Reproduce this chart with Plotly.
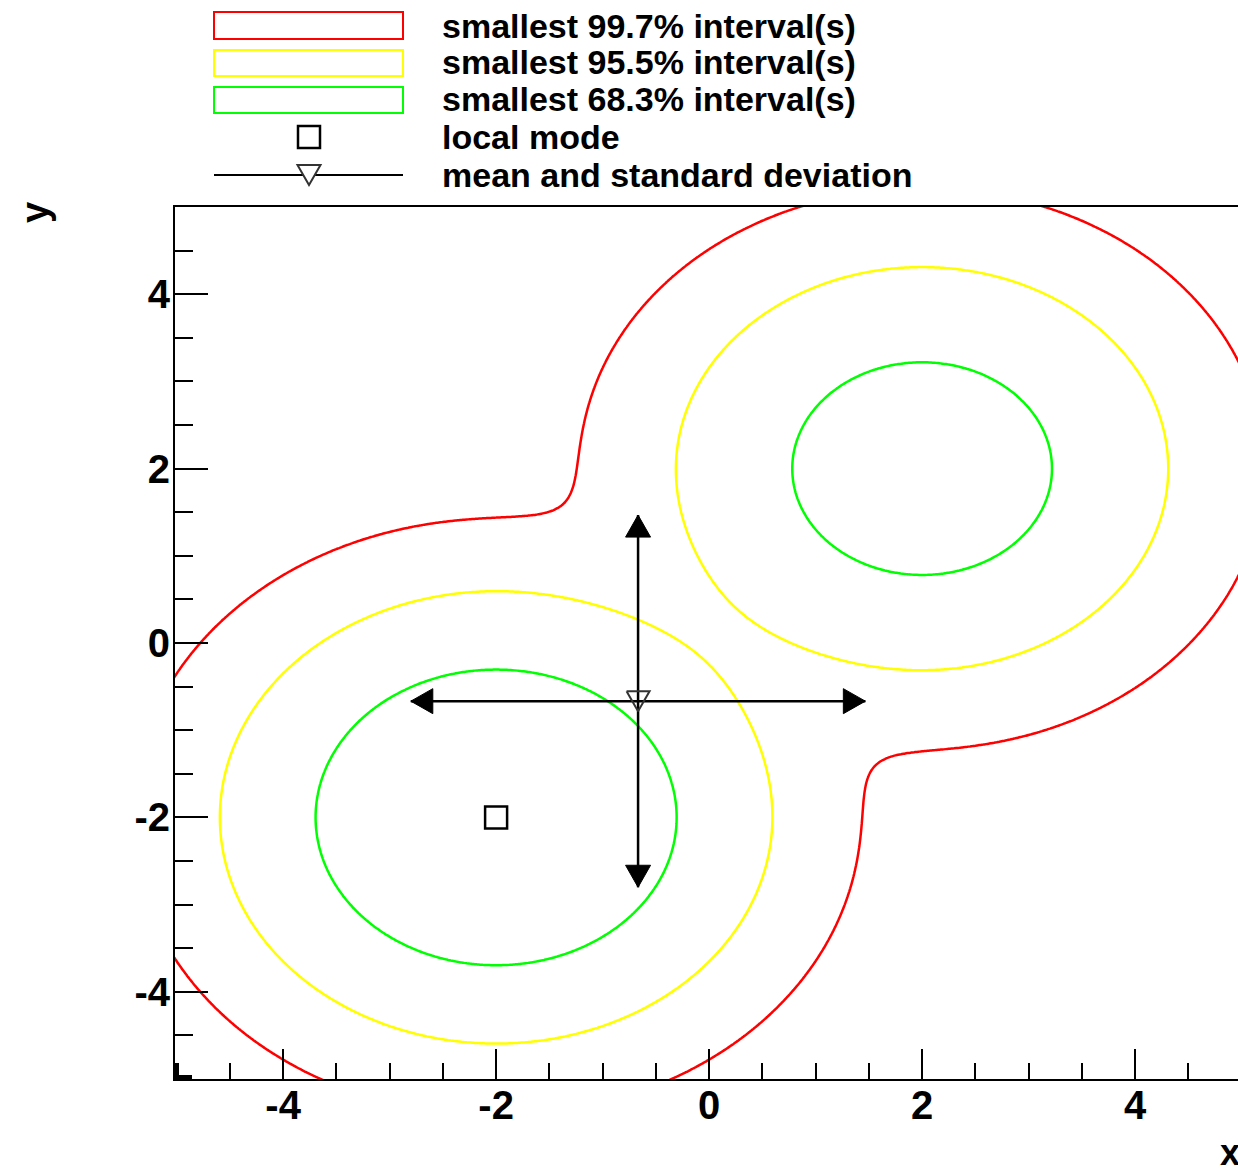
import numpy as np
import plotly.graph_objects as go

# Posterior model: mixture of two round Gaussians
mode_x = [-2.0, 2.0]
mode_y = [-2.0, 2.0]
mode_weight = [2.0 / 3.0, 1.0 / 3.0]
mode_sigma = [1.0, 1.0]

# Smallest-interval probabilities (outer to inner) and their styles
interval_probs = [0.997, 0.955, 0.683]
interval_colors = ["#ff0000", "#ffff00", "#00ff00"]
interval_labels = [
    "smallest 99.7% interval(s)",
    "smallest 95.5% interval(s)",
    "smallest 68.3% interval(s)",
]

# Summary statistics
local_mode = [-2.0, -2.0]
mean_xy = [-0.667, -0.667]
std_xy = [2.134, 2.134]

# Axes
x_range = [-5.015, 4.966]
y_range = [-5.0, 5.0]
tick_vals = [-4, -2, 0, 2, 4]

# Figure geometry (pixels)
W, H = 1238, 1170
ML, MR, MT, MB = 175, 0, 207, 91
PW, PH = W - ML - MR, H - MT - MB
ppx = PW / (x_range[1] - x_range[0])
ppy = PH / (y_range[1] - y_range[0])


def density(X, Y):
    f = np.zeros_like(X)
    for mx, my, w, s in zip(mode_x, mode_y, mode_weight, mode_sigma):
        f += w / (2 * np.pi * s * s) * np.exp(-((X - mx) ** 2 + (Y - my) ** 2) / (2 * s * s))
    return f


# Density levels bounding the smallest regions with the given probability
gb = np.arange(-8.0 + 0.01, 8.0, 0.02)
XB, YB = np.meshgrid(gb, gb)
fb = np.sort(density(XB, YB).ravel())[::-1]
cum = np.cumsum(fb) / fb.sum()
levels = [fb[np.searchsorted(cum, p)] for p in interval_probs]

# Grid for drawing (wider than the visible range so contours run off the edges)
g = np.linspace(-6.5, 6.5, 521)
XG, YG = np.meshgrid(g, g)
Z = density(XG, YG)

fig = go.Figure()

for lev, col in zip(levels, interval_colors):
    fig.add_trace(go.Contour(
        x=g, y=g, z=Z,
        autocontour=False,
        contours=dict(start=lev, end=lev, size=1, coloring="none", showlines=True),
        line=dict(color=col, width=2.5, smoothing=1.0),
        showscale=False, hoverinfo="skip",
    ))

# Mean and standard deviation: arrows in x and y
mx, my = mean_xy
sx, sy = std_xy
fig.add_trace(go.Scatter(x=[mx - sx, mx + sx], y=[my, my], mode="lines",
                         line=dict(color="black", width=2.5), hoverinfo="skip"))
fig.add_trace(go.Scatter(x=[mx, mx], y=[my - sy, my + sy], mode="lines",
                         line=dict(color="black", width=2.5), hoverinfo="skip"))

HL, HW = 22.0, 12.5  # arrow head length / half-width in pixels


def head(tx, ty, dx, dy):
    # filled triangle with tip at (tx, ty) pointing along (dx, dy)
    if dx != 0:
        bx = tx - dx * HL / ppx
        xs = [tx, bx, bx, tx]
        ys = [ty, ty + HW / ppy, ty - HW / ppy, ty]
    else:
        by = ty - dy * HL / ppy
        xs = [tx, tx + HW / ppx, tx - HW / ppx, tx]
        ys = [ty, by, by, ty]
    return go.Scatter(x=xs, y=ys, mode="lines", fill="toself", fillcolor="black",
                      line=dict(color="black", width=1), hoverinfo="skip")


fig.add_trace(head(mx + sx, my, 1, 0))
fig.add_trace(head(mx - sx, my, -1, 0))
fig.add_trace(head(mx, my + sy, 0, 1))
fig.add_trace(head(mx, my - sy, 0, -1))

# Open downward triangle marking the mean (pixel size 23 x 20)
TW, TH = 11.5, 10.0
fig.add_trace(go.Scatter(
    x=[mx - TW / ppx, mx + TW / ppx, mx, mx - TW / ppx],
    y=[my + TH / ppy, my + TH / ppy, my - TH / ppy, my + TH / ppy],
    mode="lines", line=dict(color="#333333", width=2), hoverinfo="skip"))

# Local mode
fig.add_trace(go.Scatter(x=[local_mode[0]], y=[local_mode[1]], mode="markers",
                         marker=dict(symbol="square-open", size=22, color="black",
                                     line=dict(color="black", width=2.5)),
                         hoverinfo="skip"))


# Legend above the frame
def paper_x(px):
    return (px - ML) / PW


def paper_y(py):
    return (MT + PH - py) / PH


LEG_X0, LEG_X1, LEG_XM, TXT_X = 214, 403, 309, 440
box_rows = [(12, 39), (50, 76), (87, 113)]
row_centers = [26, 62, 99, 137, 175]
shapes = []
for (y0, y1), col in zip(box_rows, interval_colors):
    shapes.append(dict(type="rect", xref="paper", yref="paper",
                       x0=paper_x(LEG_X0), x1=paper_x(LEG_X1),
                       y0=paper_y(y1), y1=paper_y(y0),
                       line=dict(color=col, width=2), fillcolor="rgba(0,0,0,0)"))
# local mode symbol
shapes.append(dict(type="rect", xref="paper", yref="paper",
                   x0=paper_x(LEG_XM - 11), x1=paper_x(LEG_XM + 11),
                   y0=paper_y(row_centers[3] + 11), y1=paper_y(row_centers[3] - 11),
                   line=dict(color="black", width=2.5), fillcolor="rgba(0,0,0,0)"))
# mean / std symbol: line with open triangle
shapes.append(dict(type="line", xref="paper", yref="paper",
                   x0=paper_x(LEG_X0), x1=paper_x(LEG_X1),
                   y0=paper_y(row_centers[4]), y1=paper_y(row_centers[4]),
                   line=dict(color="black", width=2)))
tc = row_centers[4]
tri = "M {:.5f},{:.5f} L {:.5f},{:.5f} L {:.5f},{:.5f} Z".format(
    paper_x(LEG_XM - TW), paper_y(tc - TH),
    paper_x(LEG_XM + TW), paper_y(tc - TH),
    paper_x(LEG_XM), paper_y(tc + TH))
shapes.append(dict(type="path", xref="paper", yref="paper", path=tri,
                   line=dict(color="#333333", width=2), fillcolor="white"))

# corner marks where the first minor ticks overlap the frame
shapes.append(dict(type="line", xref="paper", yref="paper",
                   x0=paper_x(177), x1=paper_x(177), y0=paper_y(1079), y1=paper_y(1063),
                   line=dict(color="black", width=4)))
shapes.append(dict(type="line", xref="paper", yref="paper",
                   x0=paper_x(175), x1=paper_x(192), y0=paper_y(1077), y1=paper_y(1077),
                   line=dict(color="black", width=4)))

legend_texts = interval_labels + ["local mode", "mean and standard deviation"]
FONT = "Liberation Sans, Arial, sans-serif"
annotations = []
for txt, yc in zip(legend_texts, row_centers):
    annotations.append(dict(text=txt, xref="paper", yref="paper",
                            x=paper_x(TXT_X), y=paper_y(yc), xanchor="left", yanchor="middle",
                            showarrow=False,
                            font=dict(family=FONT, size=34, color="black", weight="bold")))

# Axis titles
annotations.append(dict(text="y", xref="paper", yref="paper", x=paper_x(35), y=paper_y(213),
                        xanchor="center", yanchor="middle", textangle=-90, showarrow=False,
                        font=dict(family=FONT, size=38, color="black", weight="bold")))
annotations.append(dict(text="x", xref="paper", yref="paper", x=paper_x(1230), y=paper_y(1152),
                        xanchor="center", yanchor="middle", showarrow=False,
                        font=dict(family=FONT, size=36, color="black", weight="bold")))

axis_common = dict(showgrid=False, zeroline=False, showline=True, linecolor="black",
                   linewidth=2, ticks="inside", tickwidth=2, tickcolor="black",
                   tickvals=tick_vals, ticktext=[str(v) for v in tick_vals],
                   tickfont=dict(family=FONT, size=40, color="black", weight="bold"))

fig.update_layout(
    width=W, height=H,
    margin=dict(l=ML, r=MR, t=MT, b=MB, pad=0),
    paper_bgcolor="white", plot_bgcolor="white",
    showlegend=False,
    shapes=shapes, annotations=annotations,
    xaxis=dict(range=x_range, ticklen=30, mirror=True, ticklabelstandoff=-10,
               minor=dict(dtick=0.5, ticks="inside", ticklen=16, tickwidth=2, tickcolor="black"),
               **axis_common),
    yaxis=dict(range=y_range, ticklen=33, mirror=False, ticklabelstandoff=-5,
               minor=dict(dtick=0.5, ticks="inside", ticklen=18, tickwidth=2, tickcolor="black"),
               **axis_common),
)

fig.write_html("out.html")
